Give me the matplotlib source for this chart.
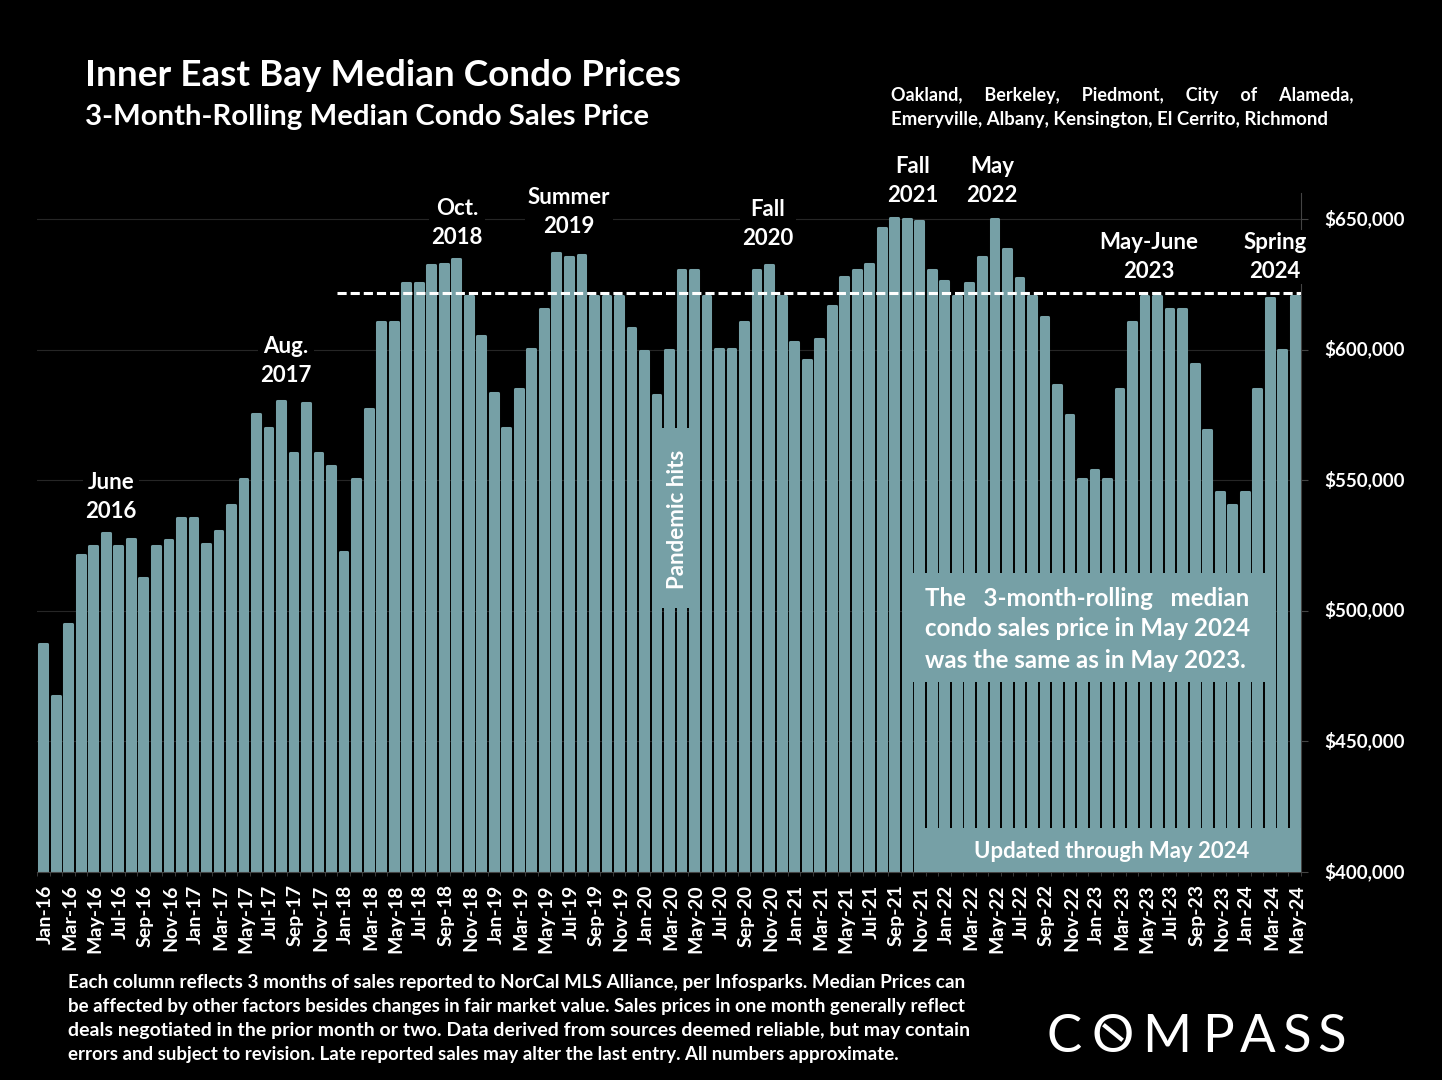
import numpy as np
import matplotlib
matplotlib.use('Agg')
import matplotlib.pyplot as plt
from matplotlib.lines import Line2D
from matplotlib.patches import Rectangle
from matplotlib.transforms import Affine2D

W, H = 1442, 1080

years = ['16', '17', '18', '19', '20', '21', '22', '23', '24']
month_names = ['Jan', 'Feb', 'Mar', 'Apr', 'May', 'Jun', 'Jul', 'Aug', 'Sep', 'Oct', 'Nov', 'Dec']
months = [m + '-' + y for y in years for m in month_names][:101]

prices = [
    488000, 468000, 495700, 522000, 525500, 530500, 525500, 528000, 513300, 525500, 527800, 536000,
    536000, 526000, 531000, 541000, 551000, 576000, 570700, 581000, 561000, 580000, 561000, 556000,
    523000, 551000, 578000, 611000, 611000, 626000, 626000, 633000, 633500, 635400, 621000, 606000,
    583800, 570700, 585700, 601000, 616000, 637700, 636000, 637000, 621000, 621000, 621000, 609000,
    600000, 583400, 600600, 631000, 631000, 621000, 601000, 601000, 611000, 631000, 633000, 621000,
    603700, 596800, 604600, 617400, 628500, 631000, 633500, 647000, 651000, 650700, 650000, 631000,
    627000, 621000, 626000, 636000, 650700, 639000, 628000, 621000, 613000, 587000, 575700, 551000,
    554600, 551000, 585700, 611000, 621000, 621000, 616000, 616000, 595000, 570000, 546000, 541000,
    546000, 585700, 620500, 600600, 621000,
]

y_ticks = [400000, 450000, 500000, 550000, 600000, 650000]
reference_price = 621600

callouts = [
    ('June\n2016', 111, 497),
    ('Aug.\n2017', 286, 361),
    ('Oct.\n2018', 457, 223),
    ('Summer\n2019', 569, 212),
    ('Fall\n2020', 768, 224),
    ('Fall\n2021', 913, 181),
    ('May\n2022', 992, 181),
    ('May-June\n2023', 1149, 257),
    ('Spring\n2024', 1275, 257),
]

footer = [
    'Each column reflects 3 months of sales reported to NorCal MLS Alliance, per Infosparks. Median Prices can',
    'be affected by other factors besides changes in fair market value. Sales prices in one month generally reflect',
    'deals negotiated in the prior month or two. Data derived from sources deemed reliable, but may contain',
    'errors and subject to revision. Late reported sales may alter the last entry. All numbers approximate.',
]

BAR = '#76A0A6'
plt.rcParams['font.family'] = ['Lato', 'DejaVu Sans']
plt.rcParams['font.weight'] = 'bold'

fig = plt.figure(figsize=(W / 100, H / 100), dpi=100, facecolor='black')
ax = fig.add_axes([37 / W, 1 - 872 / H, 1264 / W, 679 / H], facecolor='black')

# thick round edge gives the soft bar corners, shift down so the tops stay on value
bars = ax.bar(range(len(prices)), prices, width=0.62, color=BAR, edgecolor=BAR, linewidth=2.2,
              joinstyle='round', zorder=2)
for b in bars:
    b.set_transform(ax.transData + Affine2D().translate(0, -1.5))

ax.set_xlim(-0.5, len(prices) - 0.5)
ax.set_ylim(400000, 660000)
ax.grid(axis='y', color='#262626', linewidth=0.8, zorder=0)
ax.set_axisbelow(True)

for s in ['top', 'left']:
    ax.spines[s].set_visible(False)
ax.spines['right'].set_color('#444444')
ax.spines['bottom'].set_color('#444444')

ax.yaxis.tick_right()
ax.set_yticks(y_ticks)
ax.set_yticklabels(['$' + format(v, ',') for v in y_ticks], fontsize=13.5, color='white')
ax.tick_params(axis='y', length=5, color='#444444', pad=11.5)
ax.set_xticks(range(0, len(prices), 2))
ax.set_xticklabels(months[::2], rotation=90, fontsize=14, color='white')
ax.tick_params(axis='x', which='major', length=0, pad=9)
ax.set_xticks(np.arange(-0.5, len(prices)), minor=True)
ax.tick_params(axis='x', which='minor', length=3, color='#444444')

for t in ax.get_yticklabels():
    t.set_transform(t.get_transform() + Affine2D().translate(0, 2))
for t in ax.get_xticklabels():
    t.set_transform(t.get_transform() + Affine2D().translate(2, 0))

ax.plot([23.5, len(prices) - 0.5], [reference_price] * 2, color='white', linewidth=2.2,
        linestyle=(0, (3.0, 1.3)), zorder=4)


def px_text(x, y, s, **kw):
    return fig.text(x / W, 1 - y / H, s, color='white', **kw)


def px_box(x0, y0, x1, y1):
    fig.add_artist(Rectangle((x0 / W, 1 - y1 / H), (x1 - x0) / W, (y1 - y0) / H,
                             transform=fig.transFigure, facecolor=BAR, edgecolor='none'))


def fit_line(line, x0, x1, y, size, n_spaces=1):
    # one text per line, font size nudged so the line fills x0..x1
    s = (' ' * n_spaces).join(line.split())
    t = px_text(x0, y, s, fontsize=size, va='baseline', ha='left')
    width = t.get_window_extent(fig.canvas.get_renderer()).width
    t.set_fontsize(size * (x1 - x0) / width)


# callouts mask the gridlines behind them
for label, x, y in callouts:
    px_text(x, y, label, fontsize=16, ha='center', va='center', linespacing=1.42, zorder=5,
            bbox=dict(facecolor='black', edgecolor='none', pad=2))

px_box(656, 428, 697, 608)
px_text(678, 519, 'Pandemic hits', fontsize=16, rotation=90, ha='center', va='center', zorder=5)

px_box(910, 573, 1268, 682)
px_text(925, 598, 'The   3-month-rolling   median', fontsize=17.4, va='center', zorder=5)
px_text(925, 629, 'condo sales price in May 2024', fontsize=17.4, va='center', zorder=5)
px_text(925, 661, 'was the same as in May 2023.', fontsize=17.4, va='center', zorder=5)

px_box(914, 828, 1301, 872)
px_text(974, 852, 'Updated through May 2024', fontsize=15.9, va='center', zorder=5)

px_text(85, 75, 'Inner East Bay Median Condo Prices', fontsize=26.6, va='center')
px_text(85, 117, '3-Month-Rolling Median Condo Sales Price', fontsize=21.2, va='center')

fit_line('Oakland, Berkeley, Piedmont, City of Alameda,', 891, 1355, 101, 13.6, n_spaces=5)
fit_line('Emeryville, Albany, Kensington, El Cerrito, Richmond', 891, 1329, 125, 13.6)

for i, line in enumerate(footer):
    fit_line(line, 68, 968 if i < 3 else 903, 988 + 24 * i, 12.9)

# logo, letters set one at a time for the wide tracking
logo_x = [1064, 1113, 1167, 1218, 1258, 1297, 1332]
for ch, x in zip('COMPASS', logo_x):
    px_text(x, 1037, ch, fontsize=38, fontweight='normal', va='center', ha='center')
fig.add_artist(Line2D([1105 / W, 1121 / W], [1 - 1026 / H, 1 - 1039 / H], color='white',
                      linewidth=3, transform=fig.transFigure))

fig.savefig('out.png', dpi=100, facecolor='black')
